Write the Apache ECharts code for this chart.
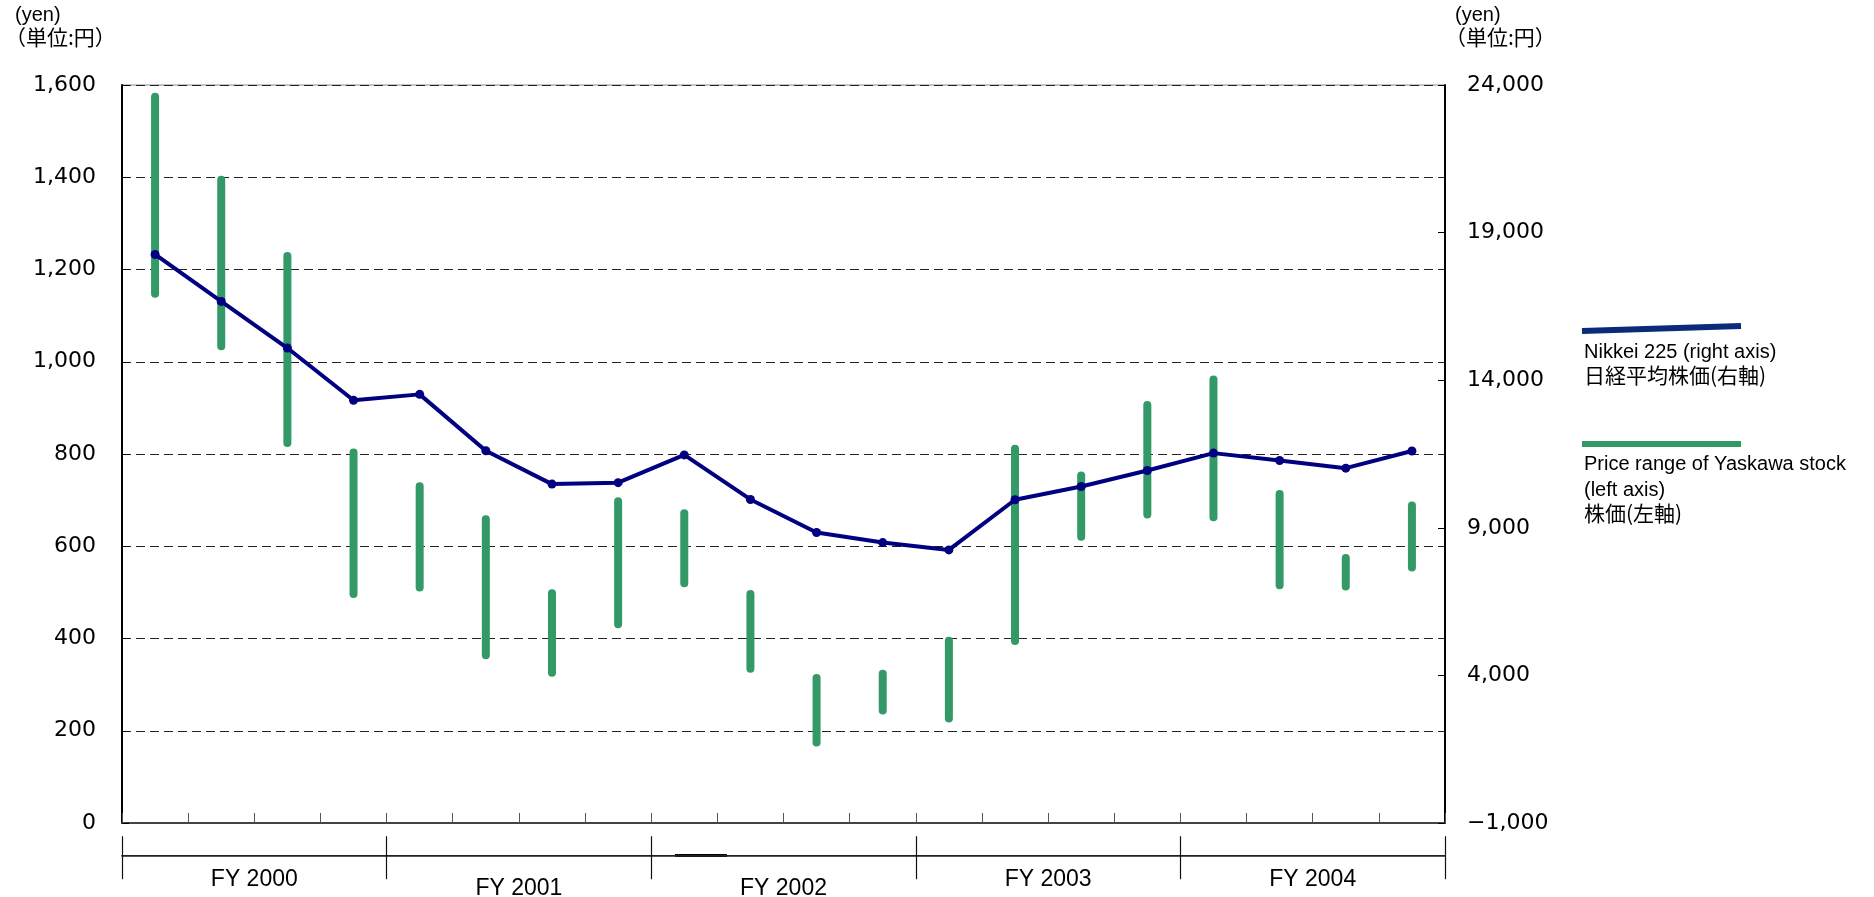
<!DOCTYPE html>
<html><head><meta charset="utf-8">
<script src="https://cdn.jsdelivr.net/npm/echarts@6/dist/echarts.min.js"></script>
<style>html,body{margin:0;padding:0;background:#fff;}#c{width:1874px;height:897px;}</style>
</head><body><div id="c"></div>
<script>
// ---- data ----
const quarters = ['2000Q1','2000Q2','2000Q3','2000Q4','2001Q1','2001Q2','2001Q3','2001Q4','2002Q1','2002Q2','2002Q3','2002Q4','2003Q1','2003Q2','2003Q3','2003Q4','2004Q1','2004Q2','2004Q3','2004Q4'];
const fiscalYears = ['FY 2000','FY 2001','FY 2002','FY 2003','FY 2004'];
const yaskawaHigh = [1583,1403,1238,812,739,667,507,706,680,505,323,332,404,820,762,915,970,722,583,697];
const yaskawaLow  = [1139,1025,815,488,502,355,317,422,511,326,166,235,218,386,612,660,654,507,504,545];
const nikkei225   = [18260,16670,15090,13320,13520,11610,10480,10530,11470,9960,8840,8500,8250,9950,10400,10940,11530,11280,11020,11600];
const legendNikkei = ['Nikkei 225 (right axis)','日経平均株価(右軸)'];
const legendYaskawa = ['Price range of Yaskawa stock','(left axis)','株価(左軸)'];
const unitLabels = ['(yen)','（単位:円）'];

const rangeSpan = yaskawaHigh.map((h,i)=>h-yaskawaLow[i]);
const fmt = v => { const s = Math.abs(v).toString().replace(/\B(?=(\d{3})+(?!\d))/g, ','); return (v<0?'−':'') + s; };

const GREEN = '#339966', NAVY = '#000080';
const LAT = 'Liberation Sans, Arial, sans-serif';
const JP = '"Noto Sans CJK JP", sans-serif';
const NUM = '"DejaVu Sans", sans-serif';

const chart = echarts.init(document.getElementById('c'));
chart.setOption({
  animation: false,
  backgroundColor: '#fff',
  grid: [
    {left: 122, width: 1323, top: 85, height: 738, show: true, borderColor: '#8a8a8a', borderWidth: 1},
    {left: 122, width: 1323, top: 855, height: 1}
  ],
  xAxis: [
    {type: 'category', gridIndex: 0, data: quarters, position: 'bottom',
     axisLine: {show: true, lineStyle: {color: '#444', width: 2}},
     axisTick: {show: true, inside: true, length: 10, lineStyle: {color: '#555', width: 1}},
     axisLabel: {show: false}, splitLine: {show: false}},
    {type: 'category', gridIndex: 1, data: fiscalYears, position: 'top',
     axisLine: {show: true, lineStyle: {color: '#222', width: 1.5}},
     axisTick: {show: true, length: 19, lineStyle: {color: '#111', width: 1.2}},
     axisLabel: {show: false}},
    {type: 'category', gridIndex: 1, data: fiscalYears, position: 'bottom',
     axisLine: {show: true, lineStyle: {color: '#222', width: 1}},
     axisTick: {show: true, length: 24, lineStyle: {color: '#111', width: 1.2}},
     axisLabel: {margin: 13, color: '#000', fontFamily: LAT, fontSize: 23,
       formatter: (v, i) => (i === 1 || i === 2) ? '{lo|' + v + '}' : '{n|' + v + '}',
       rich: {lo: {fontFamily: LAT, fontSize: 23, padding: [9, 0, 0, 0]}, n: {fontFamily: LAT, fontSize: 23}}}}
  ],
  yAxis: [
    {type: 'value', gridIndex: 0, min: 0, max: 1600, interval: 200, position: 'left',
     axisLine: {show: true, lineStyle: {color: '#000', width: 2}},
     axisTick: {show: true, inside: true, length: 7, lineStyle: {color: '#000'}},
     axisLabel: {margin: 26, color: '#000', fontFamily: NUM, fontSize: 22, formatter: fmt},
     splitLine: {show: true, lineStyle: {color: '#222', type: [9,5], width: 1}}},
    {type: 'value', gridIndex: 0, min: -1000, max: 24000, interval: 5000, position: 'right',
     axisLine: {show: true, lineStyle: {color: '#000', width: 2}},
     axisTick: {show: true, inside: true, length: 7, lineStyle: {color: '#000'}},
     axisLabel: {margin: 22, color: '#000', fontFamily: NUM, fontSize: 22, formatter: fmt},
     splitLine: {show: false}},
    {type: 'value', gridIndex: 1, show: false, min: 0, max: 1}
  ],
  series: [
    {type: 'bar', xAxisIndex: 0, yAxisIndex: 0, stack: 'range', data: yaskawaLow, barWidth: 8,
     itemStyle: {color: 'rgba(0,0,0,0)'}, silent: true},
    {type: 'bar', xAxisIndex: 0, yAxisIndex: 0, stack: 'range', data: rangeSpan, barWidth: 8,
     itemStyle: {color: GREEN, borderRadius: 4}},
    {type: 'line', xAxisIndex: 0, yAxisIndex: 1, data: nikkei225, z: 10,
     lineStyle: {color: NAVY, width: 4}, itemStyle: {color: NAVY},
     symbol: 'circle', symbolSize: 9}
  ],
  graphic: [
    {type: 'text', left: 15, top: 5, style: {text: unitLabels[0], font: '20px ' + LAT, fill: '#000'}},
    {type: 'text', left: 5, top: 27, style: {text: unitLabels[1], font: '21px ' + JP, fill: '#000'}},
    {type: 'text', left: 1455, top: 5, style: {text: unitLabels[0], font: '20px ' + LAT, fill: '#000'}},
    {type: 'text', left: 1445, top: 27, style: {text: unitLabels[1], font: '21px ' + JP, fill: '#000'}},
    {type: 'line', shape: {x1: 1582, y1: 331, x2: 1741, y2: 326}, style: {stroke: '#0b2a7a', lineWidth: 6}},
    {type: 'text', left: 1584, top: 342, style: {text: legendNikkei[0], font: '20px ' + LAT, fill: '#000'}},
    {type: 'text', left: 1584, top: 365, style: {text: legendNikkei[1], font: '21px ' + JP, fill: '#000'}},
    {type: 'line', shape: {x1: 1582, y1: 444, x2: 1741, y2: 444}, style: {stroke: GREEN, lineWidth: 6}},
    {type: 'text', left: 1584, top: 454, style: {text: legendYaskawa[0], font: '20px ' + LAT, fill: '#000'}},
    {type: 'text', left: 1584, top: 480, style: {text: legendYaskawa[1], font: '20px ' + LAT, fill: '#000'}},
    {type: 'text', left: 1584, top: 503, style: {text: legendYaskawa[2], font: '21px ' + JP, fill: '#000'}},
    {type: 'line', shape: {x1: 675, y1: 855.5, x2: 727, y2: 855.5}, style: {stroke: '#000', lineWidth: 3}}
  ]
});
</script></body></html>
